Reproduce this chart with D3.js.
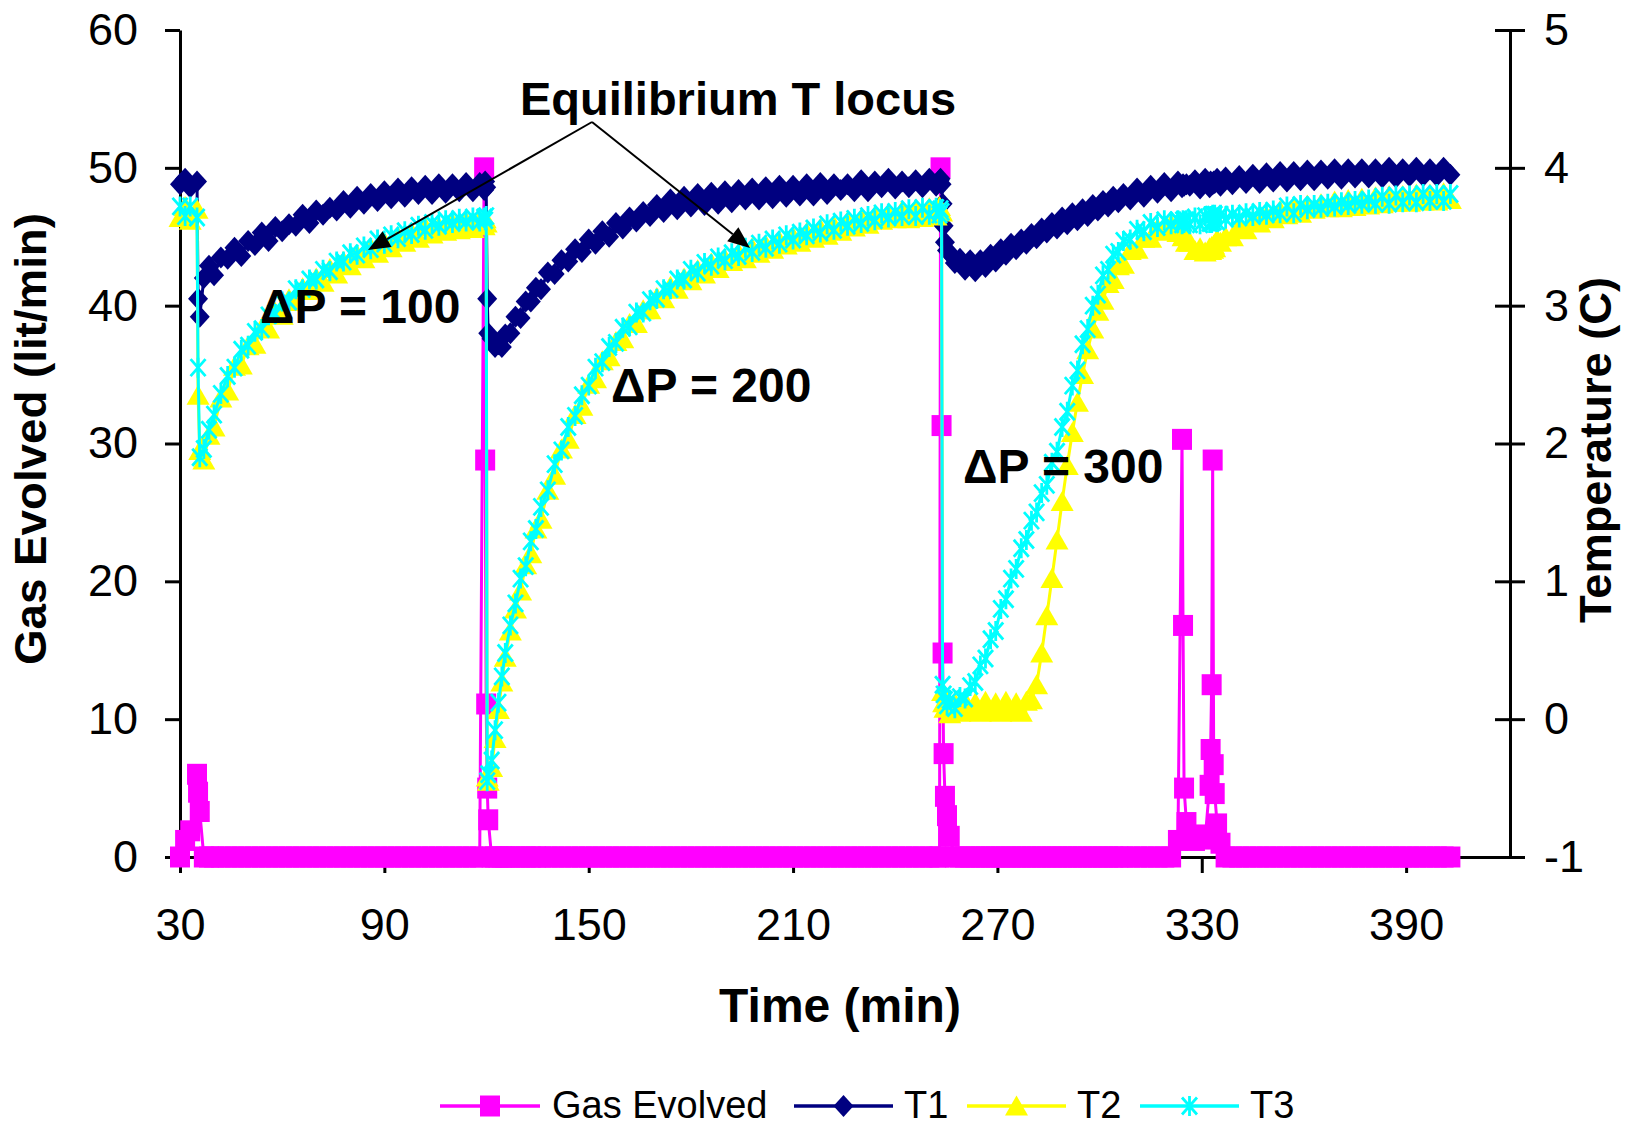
<!DOCTYPE html>
<html>
<head>
<meta charset="utf-8">
<script src="https://cdn.jsdelivr.net/npm/d3@7"></script>
<style>
  body { margin: 0; background: #fff; }
  svg { display: block; }
  text { font-family: "Liberation Sans", Arial, sans-serif; fill: #000; }
</style>
</head>
<body>
<svg id="chart" width="1630" height="1127"></svg>
<script>
// Elapsed time of each reading (min)
const minutes = [
  30, 31.5, 33, 35, 35.3, 35.8, 37, 38.5, 40, 42,
  44, 46, 48, 50, 52, 54, 56, 58, 60, 62,
  64, 66, 68, 70, 72, 74, 76, 78, 80, 82,
  84, 86, 88, 90, 92, 94, 96, 98, 100, 102,
  104, 106, 108, 110, 112, 114, 116, 118, 119.3, 119.6,
  119.9, 120.2, 120.5, 121.5, 122.5, 123.5, 124.5, 125.5, 127, 128.5,
  130, 131.5, 133, 134.5, 136, 138, 140, 142, 144, 146,
  148, 150, 152, 154, 156, 158, 160, 162, 164, 166,
  168, 170, 172, 174, 176, 178, 180, 182, 184, 186,
  188, 190, 192, 194, 196, 198, 200, 202, 204, 206,
  208, 210, 212, 214, 216, 218, 220, 222, 224, 226,
  228, 230, 232, 234, 236, 238, 240, 242, 244, 246,
  248, 250, 252, 253, 253.3, 253.6, 253.9, 254.2, 254.6, 255.2,
  256, 257.5, 259, 260.5, 262, 263.5, 265, 266.5, 268, 269.5,
  271, 272.5, 274, 275.5, 277, 278.5, 280, 281.5, 283, 284.5,
  286, 287.5, 289, 290.5, 292, 293.5, 295, 296.5, 298, 299.5,
  301, 302.5, 304, 305.5, 307, 309, 311, 313, 315, 317,
  319, 321, 323, 324.2, 324.5, 324.8, 325.5, 326.5, 328, 329.5,
  331, 332.3, 332.6, 332.9, 333.2, 333.5, 333.8, 334.5, 335.5, 337,
  339, 341, 343, 345, 347, 349, 351, 353, 355, 357,
  359, 361, 363, 365, 367, 369, 371, 373, 375, 377,
  379, 381, 383, 385, 387, 389, 391, 393, 395, 397,
  399, 401, 403
];

// Gas evolved (lit/min)
const gasEvolved = [
  0, 1.2, 1.9, 6.0, 4.7, 3.3, 0, 0, 0, 0,
  0, 0, 0, 0, 0, 0, 0, 0, 0, 0,
  0, 0, 0, 0, 0, 0, 0, 0, 0, 0,
  0, 0, 0, 0, 0, 0, 0, 0, 0, 0,
  0, 0, 0, 0, 0, 0, 0, 0, 50.0, 28.8,
  11.1, 5.0, 2.7, 0, 0, 0, 0, 0, 0, 0,
  0, 0, 0, 0, 0, 0, 0, 0, 0, 0,
  0, 0, 0, 0, 0, 0, 0, 0, 0, 0,
  0, 0, 0, 0, 0, 0, 0, 0, 0, 0,
  0, 0, 0, 0, 0, 0, 0, 0, 0, 0,
  0, 0, 0, 0, 0, 0, 0, 0, 0, 0,
  0, 0, 0, 0, 0, 0, 0, 0, 0, 0,
  0, 0, 0, 0, 50.0, 31.3, 14.8, 7.5, 4.4, 3.0,
  1.5, 0, 0, 0, 0, 0, 0, 0, 0, 0,
  0, 0, 0, 0, 0, 0, 0, 0, 0, 0,
  0, 0, 0, 0, 0, 0, 0, 0, 0, 0,
  0, 0, 0, 0, 0, 0, 0, 0, 0, 0,
  0, 0, 1.2, 30.3, 16.8, 5.0, 2.5, 1.4, 1.2, 1.6,
  1.3, 5.2, 7.8, 12.5, 28.8, 6.7, 4.6, 2.4, 1.0, 0,
  0, 0, 0, 0, 0, 0, 0, 0, 0, 0,
  0, 0, 0, 0, 0, 0, 0, 0, 0, 0,
  0, 0, 0, 0, 0, 0, 0, 0, 0, 0,
  0, 0, 0
];

// Temperature T1 (C)
const tempT1 = [
  3.88, 3.92, 3.86, 3.90, 3.05, 2.92, 3.20, 3.29, 3.22, 3.35,
  3.34, 3.42, 3.36, 3.47, 3.44, 3.53, 3.47, 3.57, 3.54, 3.59,
  3.58, 3.66, 3.60, 3.69, 3.66, 3.71, 3.69, 3.76, 3.71, 3.79,
  3.74, 3.81, 3.76, 3.83, 3.78, 3.85, 3.79, 3.86, 3.81, 3.87,
  3.81, 3.88, 3.82, 3.88, 3.83, 3.89, 3.83, 3.89, 3.84, 3.90,
  3.86, 3.05, 2.80, 2.76, 2.70, 2.72, 2.70, 2.79, 2.80, 2.92,
  2.91, 3.03, 3.03, 3.13, 3.12, 3.24, 3.23, 3.33, 3.32, 3.41,
  3.39, 3.48, 3.45, 3.54, 3.50, 3.60, 3.56, 3.64, 3.61, 3.68,
  3.65, 3.73, 3.68, 3.77, 3.70, 3.79, 3.72, 3.81, 3.73, 3.82,
  3.74, 3.83, 3.75, 3.84, 3.77, 3.85, 3.77, 3.86, 3.78, 3.87,
  3.79, 3.87, 3.80, 3.88, 3.80, 3.89, 3.81, 3.88, 3.84, 3.88,
  3.83, 3.91, 3.83, 3.90, 3.86, 3.92, 3.85, 3.90, 3.86, 3.91,
  3.86, 3.92, 3.87, 3.91, 3.92, 3.88, 3.74, 3.58, 3.46, 3.40,
  3.38, 3.31, 3.34, 3.26, 3.33, 3.25, 3.33, 3.28, 3.37, 3.32,
  3.41, 3.37, 3.45, 3.41, 3.48, 3.45, 3.52, 3.49, 3.56, 3.53,
  3.60, 3.56, 3.64, 3.59, 3.67, 3.62, 3.70, 3.65, 3.73, 3.69,
  3.76, 3.72, 3.79, 3.75, 3.81, 3.77, 3.85, 3.79, 3.87, 3.82,
  3.89, 3.83, 3.90, 3.86, 3.88, 3.87, 3.88, 3.87, 3.91, 3.85,
  3.92, 3.86, 3.90, 3.89, 3.88, 3.90, 3.89, 3.92, 3.87, 3.93,
  3.88, 3.94, 3.89, 3.95, 3.89, 3.96, 3.90, 3.97, 3.90, 3.97,
  3.91, 3.98, 3.91, 3.98, 3.92, 3.99, 3.92, 3.99, 3.93, 3.99,
  3.93, 3.99, 3.93, 4.00, 3.93, 3.99, 3.94, 4.00, 3.94, 3.99,
  3.94, 4.00, 3.95
];

// Temperature T2 (C)
const tempT2 = [
  3.64, 3.72, 3.62, 3.70, 2.35, 1.95, 1.88, 2.06, 2.12, 2.33,
  2.38, 2.56, 2.57, 2.71, 2.72, 2.84, 2.83, 2.95, 2.93, 3.05,
  3.03, 3.13, 3.11, 3.20, 3.17, 3.27, 3.23, 3.32, 3.29, 3.37,
  3.34, 3.42, 3.38, 3.46, 3.42, 3.50, 3.46, 3.53, 3.49, 3.57,
  3.52, 3.57, 3.54, 3.60, 3.55, 3.61, 3.56, 3.62, 3.58, 3.63,
  3.60, -0.42, -0.45, -0.35, -0.14, 0.07, 0.27, 0.45, 0.64, 0.80,
  0.93, 1.12, 1.20, 1.38, 1.45, 1.66, 1.77, 1.96, 2.03, 2.21,
  2.27, 2.43, 2.47, 2.60, 2.63, 2.74, 2.76, 2.87, 2.87, 2.97,
  2.97, 3.06, 3.05, 3.14, 3.12, 3.20, 3.18, 3.26, 3.23, 3.31,
  3.27, 3.34, 3.32, 3.38, 3.34, 3.42, 3.38, 3.44, 3.41, 3.47,
  3.44, 3.50, 3.46, 3.53, 3.49, 3.56, 3.51, 3.58, 3.54, 3.61,
  3.57, 3.63, 3.59, 3.65, 3.62, 3.66, 3.63, 3.69, 3.63, 3.70,
  3.64, 3.71, 3.65, 3.72, 3.69, 3.68, 0.20, 0.12, 0.08, 0.10,
  0.04, 0.12, 0.05, 0.13, 0.06, 0.12, 0.05, 0.13, 0.06, 0.12,
  0.05, 0.13, 0.06, 0.12, 0.05, 0.13, 0.14, 0.25, 0.48, 0.75,
  1.02, 1.30, 1.58, 1.84, 2.08, 2.30, 2.50, 2.68, 2.83, 2.96,
  3.04, 3.16, 3.19, 3.29, 3.30, 3.40, 3.41, 3.49, 3.49, 3.56,
  3.54, 3.59, 3.53, 3.55, 3.50, 3.51, 3.46, 3.46, 3.40, 3.42,
  3.39, 3.42, 3.40, 3.43, 3.41, 3.44, 3.42, 3.48, 3.46, 3.50,
  3.50, 3.57, 3.55, 3.62, 3.60, 3.65, 3.63, 3.69, 3.66, 3.72,
  3.67, 3.73, 3.70, 3.74, 3.71, 3.76, 3.71, 3.77, 3.72, 3.78,
  3.73, 3.79, 3.74, 3.80, 3.75, 3.80, 3.75, 3.81, 3.76, 3.81,
  3.76, 3.82, 3.77
];

// Temperature T3 (C)
const tempT3 = [
  3.72, 3.65, 3.72, 3.64, 2.55, 1.90, 1.96, 2.10, 2.21, 2.36,
  2.49, 2.55, 2.68, 2.71, 2.81, 2.83, 2.93, 2.94, 3.03, 3.03,
  3.12, 3.12, 3.19, 3.19, 3.26, 3.25, 3.32, 3.32, 3.38, 3.37,
  3.43, 3.41, 3.48, 3.45, 3.51, 3.49, 3.54, 3.52, 3.58, 3.55,
  3.60, 3.58, 3.62, 3.60, 3.63, 3.61, 3.64, 3.61, 3.64, 3.62,
  3.65, -0.45, -0.40, -0.30, -0.08, 0.12, 0.31, 0.48, 0.68, 0.84,
  1.02, 1.11, 1.29, 1.38, 1.54, 1.66, 1.85, 1.95, 2.12, 2.20,
  2.35, 2.42, 2.55, 2.59, 2.70, 2.73, 2.84, 2.85, 2.95, 2.95,
  3.04, 3.05, 3.12, 3.12, 3.19, 3.19, 3.26, 3.24, 3.31, 3.29,
  3.35, 3.33, 3.38, 3.36, 3.42, 3.39, 3.45, 3.42, 3.48, 3.45,
  3.51, 3.48, 3.53, 3.51, 3.56, 3.53, 3.59, 3.55, 3.61, 3.58,
  3.63, 3.60, 3.65, 3.62, 3.67, 3.64, 3.68, 3.65, 3.70, 3.65,
  3.71, 3.66, 3.71, 3.66, 3.70, 3.68, 0.25, 0.18, 0.14, 0.10,
  0.14, 0.08, 0.16, 0.15, 0.24, 0.27, 0.39, 0.44, 0.58, 0.64,
  0.80, 0.87, 1.02, 1.09, 1.24, 1.30, 1.44, 1.50, 1.64, 1.70,
  1.86, 1.94, 2.12, 2.23, 2.42, 2.53, 2.72, 2.83, 3.00, 3.08,
  3.22, 3.26, 3.37, 3.39, 3.47, 3.48, 3.55, 3.54, 3.60, 3.57,
  3.62, 3.59, 3.62, 3.59, 3.62, 3.60, 3.62, 3.59, 3.64, 3.59,
  3.65, 3.60, 3.65, 3.60, 3.66, 3.61, 3.66, 3.61, 3.66, 3.63,
  3.66, 3.64, 3.67, 3.65, 3.68, 3.66, 3.69, 3.67, 3.72, 3.67,
  3.73, 3.70, 3.73, 3.71, 3.74, 3.72, 3.75, 3.73, 3.76, 3.74,
  3.77, 3.74, 3.79, 3.74, 3.80, 3.75, 3.80, 3.75, 3.81, 3.76,
  3.81, 3.76, 3.81
];

// Axis ticks
const timeTicks = [30, 90, 150, 210, 270, 330, 390];
const gasTicks = [0, 10, 20, 30, 40, 50, 60];
const tempTicks = [-1, 0, 1, 2, 3, 4, 5];

// Annotation texts
const pressureLabels = ["\u0394P = 100", "\u0394P = 200", "\u0394P = 300"];
const locusLabel = "Equilibrium T locus";

const svg = d3.select("#chart");
const plot = { left: 180, right: 1510, top: 30, bottom: 857 };

const x = d3.scaleLinear().domain([30, 420.5]).range([plot.left, plot.right]);
const yGas = d3.scaleLinear().domain([0, 60]).range([plot.bottom, plot.top]);
const yTemp = d3.scaleLinear().domain([-1, 5]).range([plot.bottom, plot.top]);

// Marker shapes
const markerPath = {
  square: "M-10,-10.5H10V10.5H-10Z",
  diamond: "M0,-11L10,0L0,11L-10,0Z",
  triangle: "M0,-10.5L11.5,9.5L-11.5,9.5Z",
  star: "M-7.5,-8.5L7.5,8.5M7.5,-8.5L-7.5,8.5M0,-10L0,10"
};

const series = [
  { name: "Gas Evolved", values: gasEvolved, y: yGas, color: "#FF00FF", marker: "square" },
  { name: "T1", values: tempT1, y: yTemp, color: "#000080", marker: "diamond" },
  { name: "T2", values: tempT2, y: yTemp, color: "#FFFF00", marker: "triangle" },
  { name: "T3", values: tempT3, y: yTemp, color: "#00FFFF", marker: "star" }
];

function drawMarker(g, kind, color, cx, cy) {
  const p = g.append("path")
    .attr("d", markerPath[kind])
    .attr("transform", `translate(${cx},${cy})`);
  if (kind === "star") {
    p.attr("fill", "none").attr("stroke", color).attr("stroke-width", 2.8);
  } else {
    p.attr("fill", color).attr("stroke", "none");
  }
}

// Axes
const axisStyle = (g) => {
  g.selectAll("path.domain").attr("stroke", "#000").attr("stroke-width", 3);
  g.selectAll(".tick line").attr("stroke", "#000").attr("stroke-width", 3);
  g.selectAll(".tick text")
    .attr("fill", "#000")
    .style("font-family", '"Liberation Sans", Arial, sans-serif')
    .style("font-size", "45px");
};
const plainNumber = (d) => String(d);

svg.append("g")
  .attr("transform", `translate(0,${plot.bottom})`)
  .call(d3.axisBottom(x).tickValues(timeTicks).tickFormat(plainNumber)
    .tickSize(16).tickSizeOuter(0).tickPadding(35))
  .call(axisStyle);

svg.append("g")
  .attr("transform", `translate(${plot.left},0)`)
  .call(d3.axisLeft(yGas).tickValues(gasTicks).tickFormat(plainNumber)
    .tickSize(15).tickSizeOuter(0).tickPadding(27))
  .call(axisStyle);

const rightAxis = svg.append("g")
  .attr("transform", `translate(${plot.right},0)`)
  .call(d3.axisRight(yTemp).tickValues(tempTicks).tickFormat(plainNumber)
    .tickSize(15).tickSizeOuter(0).tickPadding(19))
  .call(axisStyle);
rightAxis.selectAll(".tick line").attr("x1", -15).attr("x2", 15);

// Series: line first, then markers
const dataLayer = svg.append("g");
series.forEach((s) => {
  const n = Math.min(minutes.length, s.values.length);
  const pts = d3.range(n).map((i) => [x(minutes[i]), s.y(s.values[i])]);
  const g = dataLayer.append("g").attr("class", "series");
  g.append("path")
    .attr("d", d3.line()(pts))
    .attr("fill", "none")
    .attr("stroke", s.color)
    .attr("stroke-width", 3)
    .attr("stroke-linejoin", "round");
  pts.forEach(([px, py]) => drawMarker(g, s.marker, s.color, px, py));
});

// Axis titles
svg.append("text")
  .attr("x", 840).attr("y", 1022)
  .attr("text-anchor", "middle")
  .style("font-size", "48px").style("font-weight", "bold")
  .text("Time (min)");

svg.append("text")
  .attr("transform", "translate(46,439) rotate(-90)")
  .attr("text-anchor", "middle")
  .style("font-size", "44px").style("font-weight", "bold")
  .attr("textLength", 452).attr("lengthAdjust", "spacingAndGlyphs")
  .text("Gas Evolved (lit/min)");

svg.append("text")
  .attr("transform", "translate(1611,450) rotate(-90)")
  .attr("text-anchor", "middle")
  .style("font-size", "44px").style("font-weight", "bold")
  .attr("textLength", 346).attr("lengthAdjust", "spacingAndGlyphs")
  .text("Temperature (C)");

// Annotations
const annot = svg.append("g");
annot.append("text")
  .attr("x", 738).attr("y", 115)
  .attr("text-anchor", "middle")
  .style("font-size", "47px").style("font-weight", "bold")
  .text(locusLabel);

const pressurePos = [[260, 323], [611, 402], [963, 483]];
pressureLabels.forEach((t, i) => {
  annot.append("text")
    .attr("x", pressurePos[i][0]).attr("y", pressurePos[i][1])
    .style("font-size", "48px").style("font-weight", "bold")
    .text(t);
});

const apex = [592, 122];
const tips = [[368, 250], [750, 248]];
tips.forEach(([tx, ty]) => {
  const dx = apex[0] - tx, dy = apex[1] - ty;
  const len = Math.hypot(dx, dy);
  const ux = dx / len, uy = dy / len;
  const headLen = 22, headW = 9;
  const bx = tx + ux * headLen, by = ty + uy * headLen;
  annot.append("line")
    .attr("x1", apex[0]).attr("y1", apex[1])
    .attr("x2", bx).attr("y2", by)
    .attr("stroke", "#000").attr("stroke-width", 2);
  annot.append("path")
    .attr("d", `M${tx},${ty}L${bx - uy * headW},${by + ux * headW}L${bx + uy * headW},${by - ux * headW}Z`)
    .attr("fill", "#000");
});

// Legend
const legendItems = [
  { s: series[0], x0: 440, x1: 540, tx: 552 },
  { s: series[1], x0: 794, x1: 893, tx: 904 },
  { s: series[2], x0: 967, x1: 1066, tx: 1077 },
  { s: series[3], x0: 1140, x1: 1239, tx: 1250 }
];
const legendY = 1106;
const legend = svg.append("g");
legendItems.forEach((it) => {
  legend.append("line")
    .attr("x1", it.x0).attr("x2", it.x1)
    .attr("y1", legendY).attr("y2", legendY)
    .attr("stroke", it.s.color).attr("stroke-width", 3.5);
  drawMarker(legend, it.s.marker, it.s.color, (it.x0 + it.x1) / 2, legendY);
  legend.append("text")
    .attr("x", it.tx).attr("y", 1118)
    .style("font-size", "38px")
    .text(it.s.name);
});
</script>
</body>
</html>
